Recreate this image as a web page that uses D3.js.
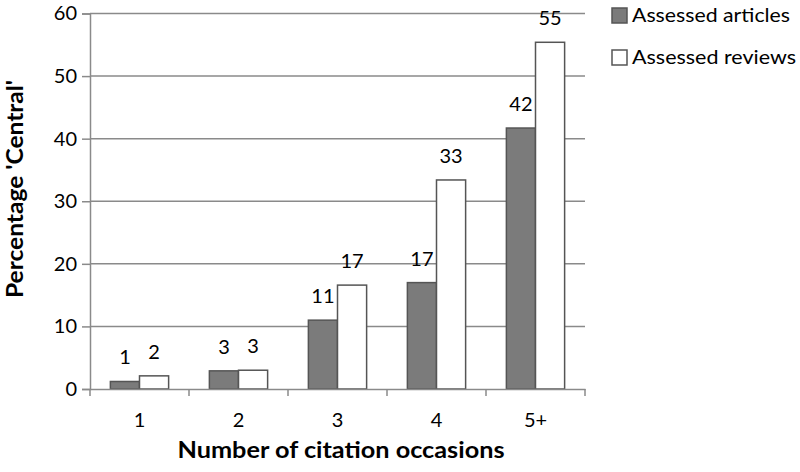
<!DOCTYPE html>
<html>
<head>
<meta charset="UTF-8">
<title>Percentage Central</title>
<script src="https://cdn.jsdelivr.net/npm/d3@7"></script>
<style>
  body { margin: 0; background: #fff; }
  svg text { font-family: Lato, "Open Sans", sans-serif; fill: #000; }
</style>
</head>
<body>
<div id="chart"></div>
<script>

// data
var categories = ["1", "2", "3", "4", "5+"]
var articles   = [1.2, 2.9, 11.0, 17.0, 41.7]
var reviews    = [2.1, 3.0, 16.6, 33.4, 55.4]
var articleLabels = ["1", "3", "11", "17", "42"]
var reviewLabels  = ["2", "3", "17", "33", "55"]
var yTicks = [0, 10, 20, 30, 40, 50, 60]
var seriesNames = ["Assessed articles", "Assessed reviews"]

var width = 800, height = 472
var plotLeft = 90, plotRight = 585, plotTop = 13.5, plotBottom = 389

var svg = d3.select("#chart").append("svg")
  .attr("width", width)
  .attr("height", height)

var x = d3.scaleBand().domain(categories).range([plotLeft, plotRight]).paddingInner(0).paddingOuter(0)
var inner = d3.scaleBand().domain(["a", "r"]).range([0, x.bandwidth()]).paddingInner(0).paddingOuter(0.7)
var y = d3.scaleLinear().domain([0, 60]).range([plotBottom, plotTop])

// gridlines
svg.append("g").selectAll("line")
  .data(yTicks.filter(function(d) { return d > 0 })).enter()
  .append("line")
  .attr("x1", plotLeft).attr("x2", plotRight)
  .attr("y1", function(d) { return y(d) }).attr("y2", function(d) { return y(d) })
  .attr("stroke", "#8a8a8a").attr("stroke-width", 1.5)

// y axis
var yAxis = svg.append("g")
  .attr("transform", "translate(" + plotLeft + ",0)")
  .call(d3.axisLeft(y).tickValues(yTicks).tickSize(8).tickPadding(5))
yAxis.select(".domain").attr("stroke", "#8a8a8a").attr("stroke-width", 1.5)
yAxis.selectAll(".tick line").attr("stroke", "#8a8a8a").attr("stroke-width", 1.5)
yAxis.selectAll("text").style("font-size", "20px")

// bars
var groups = svg.append("g").selectAll("g")
  .data(categories).enter()
  .append("g")
  .attr("transform", function(d) { return "translate(" + x(d) + ",0)" })

groups.append("rect")
  .attr("x", inner("a"))
  .attr("width", inner.bandwidth())
  .attr("y", function(d, i) { return y(articles[i]) })
  .attr("height", function(d, i) { return y(0) - y(articles[i]) })
  .attr("fill", "#7b7b7b").attr("stroke", "#555").attr("stroke-width", 1.5)

groups.append("rect")
  .attr("x", inner("r"))
  .attr("width", inner.bandwidth())
  .attr("y", function(d, i) { return y(reviews[i]) })
  .attr("height", function(d, i) { return y(0) - y(reviews[i]) })
  .attr("fill", "#fff").attr("stroke", "#555").attr("stroke-width", 1.5)

groups.append("text")
  .attr("x", inner("a") + inner.bandwidth() / 2)
  .attr("y", function(d, i) { return y(articles[i]) - 17 })
  .attr("text-anchor", "middle").style("font-size", "20px")
  .text(function(d, i) { return articleLabels[i] })

groups.append("text")
  .attr("x", inner("r") + inner.bandwidth() / 2)
  .attr("y", function(d, i) { return y(reviews[i]) - 17 })
  .attr("text-anchor", "middle").style("font-size", "20px")
  .text(function(d, i) { return reviewLabels[i] })

// x axis
var xAxis = svg.append("g")
  .attr("transform", "translate(0," + plotBottom + ")")
  .call(d3.axisBottom(x).tickSize(0).tickPadding(24))
xAxis.select(".domain").attr("stroke", "#8a8a8a").attr("stroke-width", 1.5)
xAxis.selectAll("text").style("font-size", "20px")

var bounds = categories.map(function(d) { return x(d) }).concat([plotRight])
svg.append("g").selectAll("line")
  .data(bounds).enter()
  .append("line")
  .attr("x1", function(d) { return d }).attr("x2", function(d) { return d })
  .attr("y1", plotBottom).attr("y2", plotBottom + 7)
  .attr("stroke", "#8a8a8a").attr("stroke-width", 1.5)

// axis titles
svg.append("text")
  .attr("x", 341).attr("y", 458)
  .attr("text-anchor", "middle")
  .style("font-size", "22px").style("font-weight", "bold")
  .attr("textLength", 327).attr("lengthAdjust", "spacingAndGlyphs")
  .text("Number of citation occasions")

svg.append("text")
  .attr("transform", "translate(23,189) rotate(-90)")
  .attr("text-anchor", "middle")
  .style("font-size", "22px").style("font-weight", "bold")
  .attr("textLength", 218).attr("lengthAdjust", "spacingAndGlyphs")
  .text("Percentage 'Central'")

// legend
var legend = svg.append("g").selectAll("g")
  .data(seriesNames).enter()
  .append("g")
  .attr("transform", function(d, i) { return "translate(612," + (8 + i * 42) + ")" })

legend.append("rect")
  .attr("width", 15).attr("height", 15)
  .attr("fill", function(d, i) { return i === 0 ? "#7b7b7b" : "#fff" })
  .attr("stroke", "#555").attr("stroke-width", 1.5)

legend.append("text")
  .attr("x", 20).attr("y", 14)
  .style("font-size", "20px")
  .attr("textLength", function(d, i) { return i === 0 ? 158 : 164 })
  .attr("lengthAdjust", "spacingAndGlyphs")
  .text(function(d) { return d })

</script>
</body>
</html>
